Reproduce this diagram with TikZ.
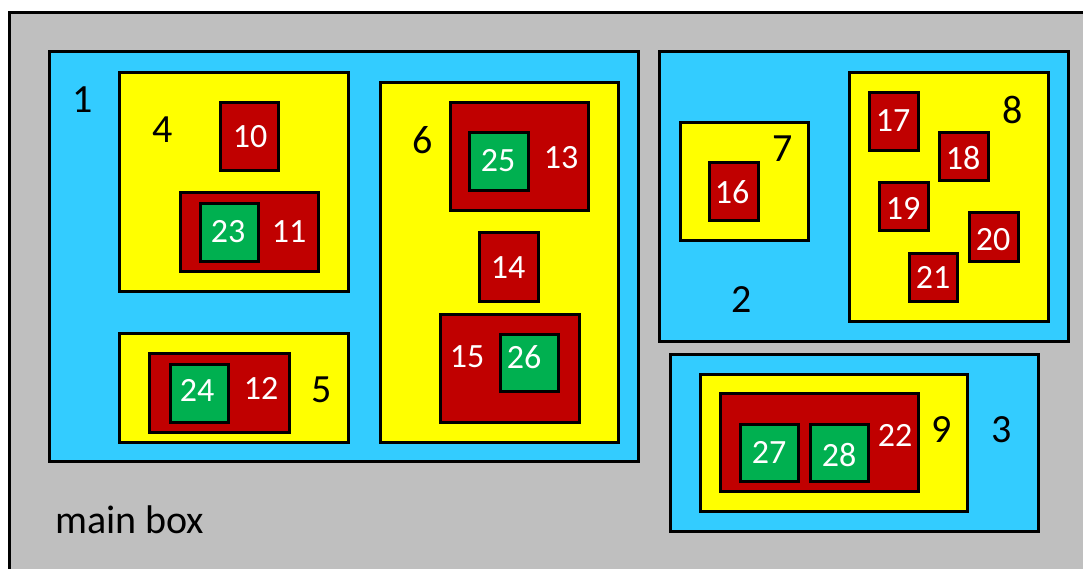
\documentclass[tikz,border=0pt]{standalone}
\usepackage{fontspec}
\setmainfont{Carlito}
\definecolor{boxgray}{HTML}{BFBFBF}
\definecolor{boxcyan}{HTML}{33CCFF}
\definecolor{boxyellow}{HTML}{FFFF00}
\definecolor{boxred}{HTML}{C00000}
\definecolor{boxgreen}{HTML}{00B050}
\tikzset{
  panel/.style={
    rectangle, draw=black, line width=3pt,
    inner sep=0pt, outer sep=0pt
  },
  mainpanel/.style={panel, fill=boxgray},
  level1/.style={panel, fill=boxcyan},
  level2/.style={panel, fill=boxyellow},
  level3/.style={panel, fill=boxred},
  level4/.style={panel, fill=boxgreen},
  darknum/.style={
    inner sep=0pt, text=black,
    font=\fontsize{40}{44}\selectfont
  },
  lightnum/.style={
    inner sep=0pt, text=white,
    font=\fontsize{34}{38}\selectfont
  },
}

\begin{document}
\begin{tikzpicture}[x=1pt, y=-1pt]

  % ── Frame ───────────────────────────────────────────────────────────────────
  \useasboundingbox (0,0) rectangle (1083,569);
  \node[mainpanel, minimum width=1100, minimum height=600, anchor=north west]
    (main) at (9.5,12.5) {};
  \node[darknum, anchor=base west] (lmain) at (55,533) {main box};

  % ── Box 1 and its children ──────────────────────────────────────────────────
  \node[level1, minimum width=589, minimum height=409] (b1) at (343.5,256.5) {};
  \node[darknum] (l1) at (83,100) {1};

  \node[level2, minimum width=229, minimum height=218] (b4) at (233.5,182) {};
  \node[darknum] (l4) at (163,130) {4};
  \node[level3, minimum width=58, minimum height=68] (b10) at (249,137) {};
  \node[lightnum] (l10) at (250,137) {10};
  \node[level3, minimum width=138, minimum height=78] (b11) at (249,232) {};
  \node[lightnum] (l11) at (289,232) {11};
  \node[level4, minimum width=58, minimum height=58] (b23) at (229,232.5) {};
  \node[lightnum] (l23) at (228,232) {23};

  \node[level2, minimum width=229, minimum height=109] (b5) at (233.5,387.5) {};
  \node[darknum] (l5) at (322,390) {5};
  \node[level3, minimum width=140, minimum height=79] (b12) at (219,392.5) {};
  \node[lightnum] (l12) at (261,388) {12};
  \node[level4, minimum width=58, minimum height=58] (b24) at (199,393) {};
  \node[lightnum] (l24) at (197,390) {24};

  \node[level2, minimum width=238, minimum height=359] (b6) at (499,262.5) {};
  \node[darknum] (l6) at (423,140) {6};
  \node[level3, minimum width=138, minimum height=108] (b13) at (519,157) {};
  \node[lightnum] (l13) at (561,158) {13};
  \node[level4, minimum width=59, minimum height=58] (b25) at (498.5,162) {};
  \node[lightnum] (l25) at (498,161) {25};
  \node[level3, minimum width=59, minimum height=68] (b14) at (508.5,267) {};
  \node[lightnum] (l14) at (508,268) {14};
  \node[level3, minimum width=139, minimum height=108] (b15) at (509.5,368) {};
  \node[lightnum] (l15) at (467,357) {15};
  \node[level4, minimum width=58, minimum height=57] (b26) at (529,362.5) {};
  \node[lightnum] (l26) at (524,357) {26};

  % ── Box 2 and its children ──────────────────────────────────────────────────
  \node[level1, minimum width=409, minimum height=289] (b2) at (863.5,196.5) {};
  \node[darknum] (l2) at (742,300) {2};

  \node[level2, minimum width=128, minimum height=118] (b7) at (744,182) {};
  \node[darknum] (l7) at (783,149) {7};
  \node[level3, minimum width=49, minimum height=58] (b16) at (733.5,192) {};
  \node[lightnum] (l16) at (732,192) {16};

  \node[level2, minimum width=199, minimum height=248] (b8) at (948.5,197) {};
  \node[darknum] (l8) at (1013,110) {8};
  \node[level3, minimum width=49, minimum height=58] (b17) at (893.5,122) {};
  \node[lightnum] (l17) at (893,121) {17};
  \node[level3, minimum width=49, minimum height=48] (b18) at (963.5,157) {};
  \node[lightnum] (l18) at (963,158) {18};
  \node[level3, minimum width=49, minimum height=48] (b19) at (903.5,207) {};
  \node[lightnum] (l19) at (903,208) {19};
  \node[level3, minimum width=49, minimum height=48] (b20) at (993.5,237) {};
  \node[lightnum] (l20) at (993,240) {20};
  \node[level3, minimum width=48, minimum height=48] (b21) at (933,277) {};
  \node[lightnum] (l21) at (933,277) {21};

  % ── Box 3 and its children ──────────────────────────────────────────────────
  \node[level1, minimum width=368, minimum height=177] (b3) at (854,442.5) {};
  \node[darknum] (l3) at (1002,430) {3};
  \node[level2, minimum width=267, minimum height=137] (b9) at (833.5,442.5) {};
  \node[darknum] (l9) at (942,430) {9};
  \node[level3, minimum width=198, minimum height=98] (b22) at (819,442) {};
  \node[lightnum] (l22) at (895,435) {22};
  \node[level4, minimum width=58, minimum height=57] (b27) at (769,452.5) {};
  \node[lightnum] (l27) at (769,452) {27};
  \node[level4, minimum width=58, minimum height=57] (b28) at (839,452.5) {};
  \node[lightnum] (l28) at (839,455) {28};

\end{tikzpicture}
\end{document}
